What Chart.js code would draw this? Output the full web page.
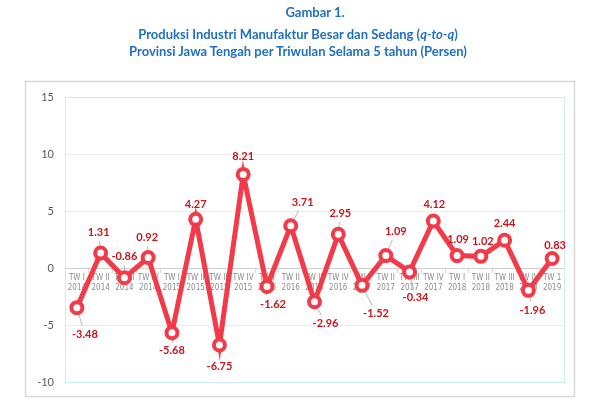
<!DOCTYPE html>
<html>
<head>
<meta charset="utf-8">
<script src="https://cdn.jsdelivr.net/npm/chart.js@4"></script>
<style>
  body { margin: 0; background: #fff; }
  #wrap { position: relative; width: 600px; height: 400px; }
  .title { position: absolute; left: 0; width: 600px; text-align: center; font-family: Lato, sans-serif; font-weight: bold; font-size: 13px; color: #1f70c1; }
  canvas { position: absolute; left: 0; top: 0; }
</style>
</head>
<body>
<div id="wrap">
  <canvas id="myChart" width="600" height="400"></canvas>
  <div class="title" style="top:4px; left:15px;">Gambar 1.</div>
  <div class="title" style="top:26px; left:-2px;">Produksi Industri Manufaktur Besar dan Sedang (<i>q-to-q</i>)</div>
  <div class="title" style="top:43px; left:-2px;">Provinsi Jawa Tengah per Triwulan Selama 5 tahun (Persen)</div>
</div>
<script>
const quarters = ["TW I", "TW II", "TW III", "TW IV", "TW I", "TW II", "TW III", "TW IV",
  "TW I", "TW II", "TW III", "TW IV", "TW I", "TW II", "TW III", "TW IV",
  "TW I", "TW II", "TW III", "TW IV", "TW 1"];
const years = ["2014", "2014", "2014", "2014", "2015", "2015", "2015", "2015",
  "2016", "2016", "2016", "2016", "2017", "2017", "2017", "2017",
  "2018", "2018", "2018", "2018", "2019"];
const growth = [-3.48, 1.31, -0.86, 0.92, -5.68, 4.27, -6.75, 8.21,
  -1.62, 3.71, -2.96, 2.95, -1.52, 1.09, -0.34, 4.12,
  1.09, 1.02, 2.44, -1.96, 0.83];
const yTicks = [-10, -5, 0, 5, 10, 15];

// where each value label sits relative to its point (px)
const labelOffsets = [[8, 27], [-2, -21], [0, -21], [-1, -20], [0, 18], [0, -15], [0, 22], [0, -18],
  [6, 18], [12, -23], [11, 22], [2, -21], [14, 28], [10, -24], [6, 26], [1, -17],
  [1, -16], [2, -15], [0, -17], [4, 20], [3, -13]];

const labels = quarters.map((q, i) => [q, years[i]]);

const boxes = {
  id: "boxes",
  beforeDraw(chart) {
    const ctx = chart.ctx;
    ctx.save();
    ctx.strokeStyle = "#d9d9d9";
    ctx.lineWidth = 1.5;
    ctx.strokeRect(25.5, 81.5, 549, 315);
    ctx.restore();
  },
  beforeDatasetsDraw(chart) {
    const ctx = chart.ctx;
    const a = chart.chartArea;
    ctx.save();
    ctx.strokeStyle = "#c9eef2";
    ctx.lineWidth = 1;
    ctx.strokeRect(a.left + 0.5, a.top + 0.5, a.right - a.left, a.bottom - a.top);
    // leader lines
    const meta = chart.getDatasetMeta(0);
    ctx.strokeStyle = "#a6a6a6";
    ctx.lineWidth = 0.8;
    meta.data.forEach((pt, i) => {
      const [dx, dy] = labelOffsets[i];
      const d = Math.hypot(dx, dy);
      if (d < 19) return;
      const k = (d - 9) / d;
      ctx.beginPath();
      ctx.moveTo(pt.x, pt.y);
      ctx.lineTo(pt.x + dx * k, pt.y + dy * k);
      ctx.stroke();
    });
    ctx.restore();
  },
  afterDatasetsDraw(chart) {
    const ctx = chart.ctx;
    const meta = chart.getDatasetMeta(0);
    ctx.save();
    ctx.font = "bold 11px Lato";
    ctx.fillStyle = "#c8161d";
    ctx.textAlign = "center";
    ctx.textBaseline = "middle";
    meta.data.forEach((pt, i) => {
      const [dx, dy] = labelOffsets[i];
      ctx.fillText(growth[i].toFixed(2), pt.x + dx, pt.y + dy);
    });
    ctx.restore();
  }
};

new Chart(document.getElementById("myChart"), {
  type: "line",
  data: {
    labels: labels,
    datasets: [{
      data: growth,
      borderColor: "#f23a48",
      borderWidth: 5,
      pointRadius: 5.5,
      pointBorderWidth: 4,
      pointBackgroundColor: "#ffffff",
      pointBorderColor: "#f23a48",
      tension: 0
    }]
  },
  options: {
    responsive: false,
    animation: false,
    layout: { padding: { left: 27, right: 36, top: 97, bottom: 18 } },
    plugins: { legend: { display: false }, tooltip: { enabled: false } },
    scales: {
      y: {
        min: -10,
        max: 15,
        afterFit: (s) => { s.width = 38; },
        afterBuildTicks: (s) => { s.ticks = yTicks.map(v => ({ value: v })); },
        grid: { color: "#ececec", drawTicks: false },
        border: { display: false },
        ticks: { color: "#595959", font: { family: "Lato", size: 11 }, padding: 11 }
      },
      x: {
        position: { y: 0 },
        offset: true,
        grid: { offset: true, drawOnChartArea: false, tickLength: 4, color: "#d9d9d9" },
        border: { color: "#d0d0d0" },
        ticks: { color: "#8c8c8c", font: { family: "'DejaVu Sans Condensed'", size: 8, lineHeight: 1.25 }, padding: 1, maxRotation: 0, autoSkip: false }
      }
    }
  },
  plugins: [boxes]
});
</script>
</body>
</html>
